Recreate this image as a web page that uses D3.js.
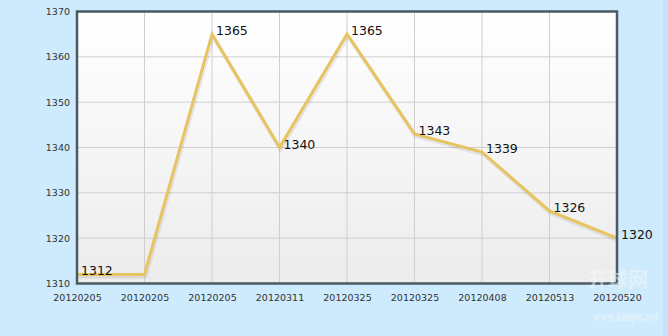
<!DOCTYPE html>
<html><head><meta charset="utf-8">
<script src="https://cdn.jsdelivr.net/npm/d3@7"></script>
<style>
html,body{margin:0;padding:0;background:#cdebfd;}
svg{display:block;}
</style></head>
<body>
<svg id="chart" width="668" height="336"></svg>
<script>
const categories = ["20120205","20120205","20120205","20120311","20120325","20120325","20120408","20120513","20120520"];
const values = [1312,1312,1365,1340,1365,1343,1339,1326,1320];
const pointLabels = ["1312","","1365","1340","1365","1343","1339","1326","1320"];
const yTicks = [1310,1320,1330,1340,1350,1360,1370];

const svg = d3.select("#chart");
const W = 668, H = 336;
const m = {left:77, top:11.5, right:51, bottom:52.5};
const pw = W - m.left - m.right, ph = H - m.top - m.bottom;

svg.append("rect").attr("width",W).attr("height",H).attr("fill","#cdebfd");
svg.append("rect").attr("x",663).attr("width",5).attr("height",H).attr("fill","#c3e3f8");

const defs = svg.append("defs");
const grad = defs.append("linearGradient").attr("id","bg").attr("x1",0).attr("y1",0).attr("x2",0).attr("y2",1);
grad.append("stop").attr("offset","0%").attr("stop-color","#ffffff");
grad.append("stop").attr("offset","100%").attr("stop-color","#ececec");

const x = d3.scalePoint().domain(d3.range(categories.length)).range([0,pw]);
const y = d3.scaleLinear().domain([1310,1370]).range([ph,0]);

const g = svg.append("g").attr("transform",`translate(${m.left},${m.top})`);
g.append("rect").attr("width",pw).attr("height",ph).attr("fill","url(#bg)");

// grid
g.append("g").selectAll("line.h").data(yTicks).join("line")
  .attr("x1",0).attr("x2",pw).attr("y1",d=>y(d)).attr("y2",d=>y(d))
  .attr("stroke","#cfcfcf").attr("stroke-width",1);
g.append("g").selectAll("line.v").data(d3.range(categories.length)).join("line")
  .attr("x1",d=>x(d)).attr("x2",d=>x(d)).attr("y1",0).attr("y2",ph)
  .attr("stroke","#cfcfcf").attr("stroke-width",1);

// y axis labels
const yAxis = d3.axisLeft(y).tickValues(yTicks).tickSize(0).tickPadding(7).tickFormat(d3.format("d"));
const ya = g.append("g").call(yAxis);
ya.select(".domain").remove();
ya.selectAll("text").attr("fill","#333").attr("font-family","DejaVu Sans, Verdana, sans-serif").attr("font-size","9.5px");

// x axis labels
const xAxis = d3.axisBottom(x).tickSize(0).tickPadding(11).tickFormat(i=>categories[i]);
const xa = g.append("g").attr("transform",`translate(0,${ph})`).call(xAxis);
xa.select(".domain").remove();
xa.selectAll("text").attr("fill","#333").attr("font-family","DejaVu Sans, Verdana, sans-serif").attr("font-size","9.5px");

// line
const line = d3.line().x((d,i)=>x(i)).y(d=>y(d));
g.append("path").datum(values).attr("d",line).attr("fill","none")
  .attr("stroke","#000").attr("stroke-opacity",0.08).attr("stroke-width",4)
  .attr("transform","translate(1,2)").attr("stroke-linejoin","miter");
g.append("path").datum(values).attr("d",line).attr("fill","none")
  .attr("stroke","#e8c461").attr("stroke-width",3).attr("stroke-linejoin","miter");

// border
g.append("rect").attr("width",pw).attr("height",ph).attr("fill","none")
  .attr("stroke","#4b5a62").attr("stroke-width",2.5);

// point labels
g.append("g").selectAll("text").data(values).join("text")
  .attr("x",(d,i)=>x(i)+4).attr("y",d=>y(d)+1)
  .attr("font-family","DejaVu Sans, Verdana, sans-serif").attr("font-size","12.5px")
  .attr("fill","#111")
  .text((d,i)=>pointLabels[i]);

// watermark
const wm = svg.append("g").attr("opacity",0.5);
wm.append("text").attr("x",648).attr("y",287).attr("text-anchor","end")
  .attr("font-family","Noto Sans CJK SC, sans-serif").attr("font-weight","bold").attr("font-size","20px")
  .attr("fill","#f4f8fa").text("开球网");
wm.append("text").attr("transform","translate(593,321) scale(0.58,1)")
  .attr("font-family","DejaVu Sans, sans-serif").attr("font-weight","bold").attr("font-size","13px")
  .attr("fill","#f4f8fa").text("www.kaiqiu.net");
</script>
</body></html>
